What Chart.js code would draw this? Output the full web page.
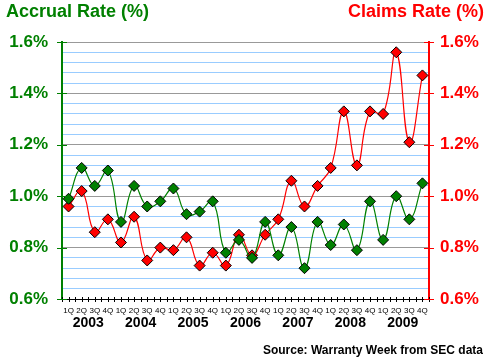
<!DOCTYPE html>
<html>
<head>
<meta charset="utf-8">
<script src="https://cdn.jsdelivr.net/npm/chart.js@4.4.0/dist/chart.umd.min.js"></script>
<style>
  body { margin: 0; background: #fff; }
  #wrap { position: relative; width: 490px; height: 363px; font-family: Arial, "Liberation Sans", sans-serif; font-weight: bold; }
  .hdr { position: absolute; top: 1px; font-size: 18px; white-space: nowrap; }
  #left { left: 6px; color: #008000; }
  #right { right: 6px; color: #ff0000; }
  #src { position: absolute; right: 7px; top: 343px; font-size: 12px; color: #000; white-space: nowrap; }
</style>
</head>
<body>
<div id="wrap">
  <canvas id="warranty" width="490" height="363"></canvas>
  <div class="hdr" id="left">Accrual Rate (%)</div>
  <div class="hdr" id="right">Claims Rate (%)</div>
  <div id="src">Source: Warranty Week from SEC data</div>
</div>
<script>
const years = ['2003', '2004', '2005', '2006', '2007', '2008', '2009'];
const quarterNames = ['1Q', '2Q', '3Q', '4Q'];
const accrualRate = [0.99, 1.11, 1.04, 1.10, 0.90, 1.04, 0.96, 0.98, 1.03, 0.93, 0.94, 0.98, 0.78, 0.83,
    0.76, 0.90, 0.77, 0.88, 0.72, 0.90, 0.81, 0.89, 0.79, 0.98, 0.83, 1.00, 0.91, 1.05];
const claimsRate = [0.96, 1.02, 0.86, 0.91, 0.82, 0.92, 0.75, 0.80, 0.79, 0.84, 0.73, 0.78, 0.73, 0.85,
    0.77, 0.85, 0.91, 1.06, 0.96, 1.04, 1.11, 1.33, 1.12, 1.33, 1.32, 1.56, 1.21, 1.47];
const rateMin = 0.6;
const rateMax = 1.6;

const categories = years.flatMap(y => quarterNames.map(q => q + ' ' + y));
const isMajor = v => Math.abs(v * 5 - Math.round(v * 5)) < 1e-6;

// cross-shaped tick marks like the original
const tickCrosses = {
    id: 'tickCrosses',
    afterDatasetsDraw(chart) {
        const ctx = chart.ctx;
        const area = chart.chartArea;
        const x2 = chart.scales.x2;
        const y = chart.scales.y;
        ctx.save();
        ctx.lineWidth = 1;
        ctx.strokeStyle = '#000';
        ctx.beginPath();
        for (let k = 0; k <= categories.length * 2; k++) {
            const px = Math.round(x2.getPixelForValue(k / 2 - 0.5)) + 0.5;
            ctx.moveTo(px, area.bottom - 2);
            ctx.lineTo(px, area.bottom + 3);
        }
        ctx.stroke();
        for (let v = rateMin; v <= rateMax + 1e-6; v += 0.2) {
            const py = Math.round(y.getPixelForValue(v)) + 0.5;
            ctx.strokeStyle = '#008000';
            ctx.beginPath();
            ctx.moveTo(area.left - 5, py);
            ctx.lineTo(area.left + 5, py);
            ctx.stroke();
            ctx.strokeStyle = '#ff0000';
            ctx.beginPath();
            ctx.moveTo(area.right - 5, py);
            ctx.lineTo(area.right + 5, py);
            ctx.stroke();
        }
        ctx.restore();
    }
};

const ctx = document.getElementById('warranty').getContext('2d');
new Chart(ctx, {
    type: 'line',
    data: {
        labels: categories,
        datasets: [{
            label: 'Accrual Rate (%)',
            data: accrualRate,
            yAxisID: 'y',
            borderColor: '#008000',
            borderWidth: 1.2,
            backgroundColor: '#008000',
            pointStyle: 'rectRot',
            pointRadius: 5.5,
            pointBorderColor: '#000',
            pointBorderWidth: 1,
            tension: 0.45
        }, {
            label: 'Claims Rate (%)',
            data: claimsRate,
            yAxisID: 'y1',
            borderColor: '#ff0000',
            borderWidth: 1.2,
            backgroundColor: '#ff0000',
            pointStyle: 'rectRot',
            pointRadius: 5.5,
            pointBorderColor: '#000',
            pointBorderWidth: 1,
            tension: 0.45
        }]
    },
    options: {
        responsive: false,
        animation: false,
        layout: { padding: { top: 42, bottom: 33, left: 0, right: 0 } },
        plugins: { legend: { display: false }, tooltip: { enabled: false } },
        scales: {
            x: {
                offset: true,
                grid: { drawOnChartArea: false, drawTicks: false },
                border: { color: '#000', width: 1 },
                ticks: {
                    autoSkip: false,
                    maxRotation: 0,
                    padding: 7,
                    color: '#000',
                    font: { family: 'Arial, "Liberation Sans"', size: 8 },
                    callback: (v, i) => quarterNames[i % 4]
                },
                afterFit: s => { s.height = 16; }
            },
            x2: {
                type: 'linear',
                position: 'bottom',
                min: -0.5,
                max: categories.length - 0.5,
                grid: { display: false, drawTicks: false },
                border: { display: false },
                afterBuildTicks: s => { s.ticks = years.map((yr, i) => ({ value: i * 4 + 1.5 })); },
                ticks: {
                    padding: 0,
                    color: '#000',
                    font: { family: 'Arial, "Liberation Sans"', size: 14, weight: 'bold' },
                    callback: v => years[Math.round((v - 1.5) / 4)]
                },
                afterFit: s => { s.height = 15; }
            },
            y: {
                position: 'left',
                min: rateMin,
                max: rateMax,
                border: { color: '#008000', width: 2 },
                grid: {
                    drawTicks: false,
                    lineWidth: 1,
                    color: c => isMajor(c.tick.value) ? '#999999' : '#99ccff'
                },
                ticks: {
                    stepSize: 0.04,
                    autoSkip: false,
                    padding: 14,
                    color: '#008000',
                    font: { family: 'Arial, "Liberation Sans"', size: 17, weight: 'bold' },
                    callback: v => isMajor(v) ? v.toFixed(1) + '%' : ''
                },
                afterFit: s => { s.width = 62; }
            },
            y1: {
                position: 'right',
                min: rateMin,
                max: rateMax,
                border: { color: '#ff0000', width: 2 },
                grid: { drawOnChartArea: false, drawTicks: false },
                ticks: {
                    stepSize: 0.2,
                    padding: 11,
                    color: '#ff0000',
                    font: { family: 'Arial, "Liberation Sans"', size: 17, weight: 'bold' },
                    callback: v => v.toFixed(1) + '%'
                },
                afterFit: s => { s.width = 61; }
            }
        }
    },
    plugins: [tickCrosses]
});
</script>
</body>
</html>
